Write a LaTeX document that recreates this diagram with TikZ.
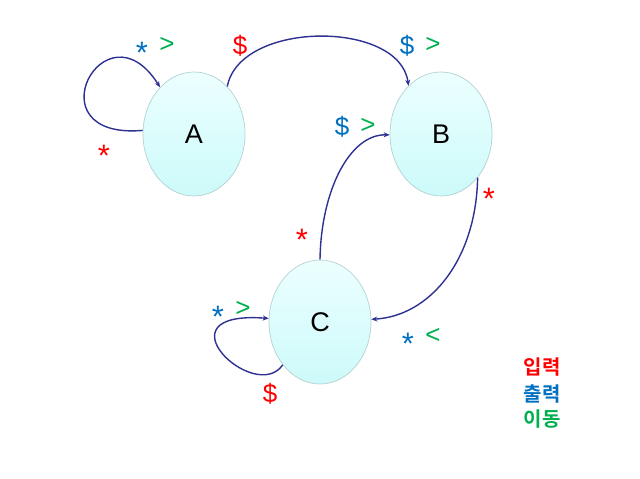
\documentclass[tikz,border=0pt]{standalone}
\usepackage{fontspec}
\setmainfont{Liberation Sans}
\newfontfamily\krfont{Noto Sans CJK KR Bold}
\usetikzlibrary{shapes.geometric,arrows.meta}
\definecolor{cred}{RGB}{255,0,0}
\definecolor{cblue}{RGB}{0,112,192}
\definecolor{cgreen}{RGB}{0,176,80}
\definecolor{edgecol}{RGB}{46,49,146}
\definecolor{nodeborder}{RGB}{180,210,210}
\definecolor{filltop}{RGB}{236,255,255}
\definecolor{fillbot}{RGB}{205,250,250}
\begin{document}
\begin{tikzpicture}[x=1pt,y=-1pt,
  statenode/.style={ellipse, draw=nodeborder, line width=0.7pt, top color=filltop, bottom color=fillbot,
    minimum width=102pt, minimum height=124pt, inner sep=0pt, font=\fontsize{27}{30}\selectfont},
  edge/.style={draw=edgecol, line width=1.4pt, -{Stealth[length=6pt,width=5pt]}},
  lbl/.style={font=\fontsize{26}{28}\selectfont, inner sep=0pt},
  star/.style={font=\fontsize{31}{33}\selectfont, inner sep=0pt, yshift=-7pt},
  leg/.style={font=\krfont\fontsize{20}{22}\selectfont, inner sep=0pt}
]
\useasboundingbox (0,0) rectangle (640,479);
\fill[white] (0,0) rectangle (640,479);

\node[statenode] (A) at (194,134) {A};
\node[statenode] (B) at (441,134) {B};
\node[statenode] (C) at (320,322) {C};

% edges
\draw[edge] (A.176) .. controls (30,140) and (105,0) .. (A.126);
\draw[edge] (A.55) .. controls (240,20) and (400,20) .. (B.124);
\draw[edge] (C.90) .. controls (321,190) and (350,134) .. (B.181);
\draw[edge] (B.310) .. controls (476,260) and (430,316) .. (C.3);
\draw[edge] (C.229) .. controls (255,405) and (155,310) .. (C.176);

% labels
\node[star, text=cblue] (l1a) at (142,46) {*};
\node[lbl, text=cgreen] (l1b) at (167,45) {>};
\node[lbl, text=cred] (l2) at (240,46) {\$};
\node[lbl, text=cblue] (l3a) at (407,46) {\$};
\node[lbl, text=cgreen] (l3b) at (433,45) {>};
\node[star, text=cred] (l4) at (104,149) {*};
\node[lbl, text=cblue] (l5a) at (342,127) {\$};
\node[lbl, text=cgreen] (l5b) at (368,126) {>};
\node[star, text=cred] (l6) at (489,192) {*};
\node[star, text=cred] (l7) at (302,233) {*};
\node[star, text=cblue] (l8a) at (218,310) {*};
\node[lbl, text=cgreen] (l8b) at (243,309) {>};
\node[star, text=cblue] (l9a) at (408,337) {*};
\node[lbl, text=cgreen] (l9b) at (433,336) {<};
\node[lbl, text=cred] (l10) at (270,394) {\$};

% legend
\node[leg, text=cred] (g1) at (542,367) {입력};
\node[leg, text=cblue] (g2) at (542,394) {출력};
\node[leg, text=cgreen] (g3) at (542,419) {이동};
\end{tikzpicture}
\end{document}
